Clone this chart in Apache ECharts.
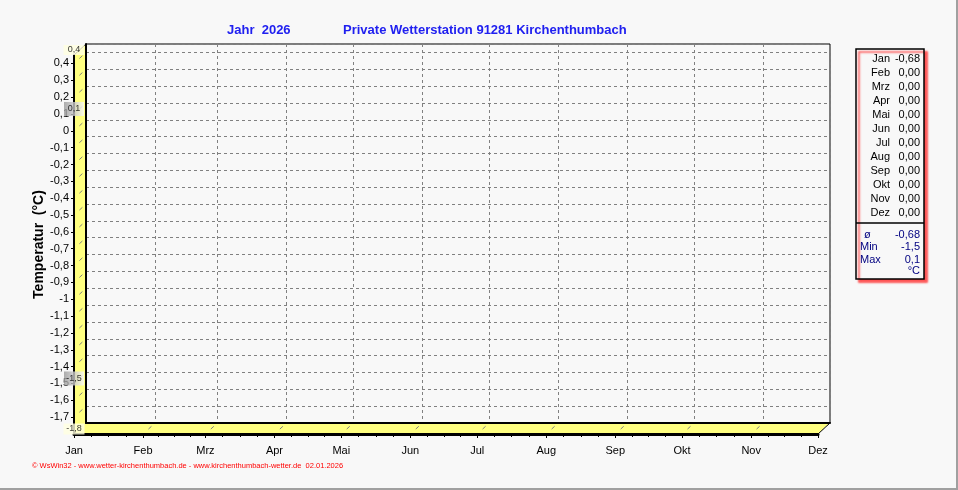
<!DOCTYPE html>
<html>
<head>
<meta charset="utf-8">
<title>Jahr 2026 - Temperatur</title>
<script src="https://cdn.jsdelivr.net/npm/echarts@6/dist/echarts.min.js"></script>
<style>
  html, body { margin: 0; padding: 0; background: #f8f8f8; }
  #chart { width: 958px; height: 490px; }
</style>
</head>
<body>
<div id="chart"></div>
<script>
// Monatsnamen und Tag des Jahres, an dem der Monat beginnt (x-Achse in Tagen)
const months = ['Jan', 'Feb', 'Mrz', 'Apr', 'Mai', 'Jun', 'Jul', 'Aug', 'Sep', 'Okt', 'Nov', 'Dez']
const monthStartDays = [0, 31, 59, 90, 120, 151, 181, 212, 243, 273, 304, 334]
// Monatsmittel (°C) aus der Tabelle rechts
const monthValues = [-0.68, 0, 0, 0, 0, 0, 0, 0, 0, 0, 0, 0]
const statLabels = ['ø', 'Min', 'Max']
const statValues = [-0.68, -1.5, 0.1]
const axisRange = [-1.8, 0.45]
const yStep = 0.1
const titles = ['Jahr  2026', 'Private Wetterstation 91281 Kirchenthumbach']
const footer = '© WsWin32 - www.wetter-kirchenthumbach.de - www.kirchenthumbach-wetter.de  02.01.2026'

const FONT = '"Liberation Sans", Arial, sans-serif'
const dayMax = monthStartDays[monthStartDays.length - 1]

// Zwischenstriche: Viertel jedes Monats
const quarterDays = []
for (let i = 0; i < monthStartDays.length - 1; i++) {
  const s = monthStartDays[i]
  const len = monthStartDays[i + 1] - s
  quarterDays.push(s + len / 4, s + len / 2, s + len * 3 / 4)
}

const fmtDec = (v, d) => v.toFixed(d).replace('.', ',')
const fmtTick = v => String(Math.round(v * 10) / 10 || 0).replace('.', ',')
const trunc1 = v => Math.trunc(v * 10 + (v < 0 ? -1e-9 : 1e-9)) / 10

const grayBox = new echarts.graphic.LinearGradient(0, 0, 1, 0, [
  { offset: 0, color: '#999999' },
  { offset: 1, color: '#fafafa' }
])

const chart = echarts.init(document.getElementById('chart'))

chart.setOption({
  backgroundColor: '#f8f8f8',
  animation: false,
  textStyle: { fontFamily: FONT },
  title: [
    { text: titles[0], left: 227, top: 24, padding: 0, textStyle: { color: '#2020f0', fontSize: 13, fontWeight: 'bold', fontFamily: FONT } },
    { text: titles[1], left: 343, top: 24, padding: 0, textStyle: { color: '#2020f0', fontSize: 13, fontWeight: 'bold', fontFamily: FONT } }
  ],
  grid: [
    // vordere Ebene (Achsen)
    { left: 74, top: 55, width: 744, height: 379 },
    // Rückwand (Gitter)
    { left: 86, top: 44, width: 744, height: 379, show: true, borderColor: '#000', borderWidth: 1, backgroundColor: 'transparent' }
  ],
  xAxis: [
    {
      gridIndex: 0, type: 'value', min: 0, max: dayMax, position: 'bottom',
      axisLine: { onZero: false, lineStyle: { color: '#000', width: 3 } },
      axisTick: { customValues: monthStartDays, length: 4, lineStyle: { color: '#000' } },
      axisLabel: {
        customValues: monthStartDays, margin: 11, fontSize: 11, color: '#000',
        formatter: v => months[monthStartDays.indexOf(v)]
      },
      splitLine: { show: false }
    },
    {
      gridIndex: 0, type: 'value', min: 0, max: dayMax, position: 'bottom',
      axisLine: { show: false, onZero: false },
      axisTick: { customValues: quarterDays, length: 3, lineStyle: { color: '#000' } },
      axisLabel: { show: false },
      splitLine: { show: false }
    },
    {
      gridIndex: 1, type: 'value', min: 0, max: dayMax, position: 'bottom',
      axisLine: { onZero: false, lineStyle: { color: '#000', width: 2 } },
      axisTick: { show: false, customValues: monthStartDays },
      axisLabel: { show: false },
      splitLine: { show: true, lineStyle: { color: '#808080', type: [3, 3], width: 1 } }
    }
  ],
  yAxis: [
    {
      gridIndex: 0, type: 'value', min: axisRange[0], max: axisRange[1], interval: yStep,
      name: 'Temperatur  (°C)', nameLocation: 'middle', nameGap: 28, nameRotate: 90, nameMoveOverlap: false,
      nameTextStyle: { fontSize: 14, fontWeight: 'bold', color: '#000', fontFamily: FONT },
      axisLine: { onZero: false, lineStyle: { color: '#000', width: 2 } },
      axisTick: { length: 3, lineStyle: { color: '#000' } },
      axisLabel: { fontSize: 11, color: '#000', margin: 5, showMinLabel: false, showMaxLabel: false, formatter: fmtTick },
      splitLine: { show: false }
    },
    {
      gridIndex: 1, type: 'value', min: axisRange[0], max: axisRange[1], interval: yStep,
      axisLine: { onZero: false, lineStyle: { color: '#000', width: 2 } },
      axisTick: { show: false },
      axisLabel: { show: false },
      splitLine: { show: true, lineStyle: { color: '#808080', type: [3, 3], width: 1 } }
    }
  ],
  series: [
    {
      // Markierungen an der Seitenwand: Achsenende und Min/Max
      type: 'scatter', xAxisIndex: 0, yAxisIndex: 0, z: 5, clip: false, silent: true,
      symbol: 'rect', symbolOffset: [0, -5],
      label: { show: true, position: 'inside', fontSize: 9, color: '#000', fontFamily: FONT },
      data: [
        { value: [0, axisRange[1]], symbolSize: [21, 10], itemStyle: { color: '#ffffe0' }, label: { formatter: fmtDec(trunc1(axisRange[1]), 1) } },
        { value: [0, axisRange[0]], symbolSize: [21, 11], itemStyle: { color: '#ffffe0' }, label: { formatter: fmtDec(trunc1(axisRange[0]), 1) } },
        { value: [0, statValues[2]], symbolSize: [20, 14], itemStyle: { color: grayBox }, label: { formatter: fmtDec(statValues[2], 1) } },
        { value: [0, statValues[1]], symbolSize: [20, 14], itemStyle: { color: grayBox }, label: { formatter: fmtDec(statValues[1], 1) } }
      ]
    }
  ]
})

// 3D-Wände und Tabelle aus den Achsen berechnen
const fx = d => chart.convertToPixel({ xAxisIndex: 0 }, d)
const fy = v => chart.convertToPixel({ yAxisIndex: 0 }, v)
const bx = d => chart.convertToPixel({ xAxisIndex: 2 }, d)
const by = v => chart.convertToPixel({ yAxisIndex: 1 }, v)
const lerp = (a, b, t) => a + (b - a) * t

const yellow = '#ffff80'
const deco = []
deco.push({
  type: 'polygon', z: -10, silent: true,
  shape: { points: [[fx(0), fy(axisRange[1])], [bx(0), by(axisRange[1])], [bx(0), by(axisRange[0])], [fx(0), fy(axisRange[0])]] },
  style: { fill: yellow }
})
deco.push({
  type: 'polygon', z: -10, silent: true,
  shape: { points: [[fx(0), fy(axisRange[0])], [bx(0), by(axisRange[0])], [bx(dayMax), by(axisRange[0])], [fx(dayMax), fy(axisRange[0])]] },
  style: { fill: yellow }
})
deco.push({
  type: 'line', z: -5, silent: true,
  shape: { x1: fx(dayMax), y1: fy(axisRange[0]), x2: bx(dayMax), y2: by(axisRange[0]) },
  style: { stroke: '#000', lineWidth: 1 }
})
deco.push({
  type: 'line', z: -5, silent: true,
  shape: { x1: fx(0), y1: fy(axisRange[1]), x2: bx(0), y2: by(axisRange[1]) },
  style: { stroke: '#000', lineWidth: 1 }
})
// kurze Gitterstücke auf Seitenwand und Boden
const nSteps = Math.round((axisRange[1] - axisRange[0]) / yStep)
for (let k = 1; k < nSteps; k++) {
  const v = axisRange[0] + k * yStep
  const x1 = fx(0), y1 = fy(v), x2 = bx(0), y2 = by(v)
  deco.push({
    type: 'line', z: -5, silent: true,
    shape: { x1: lerp(x1, x2, 0.45), y1: lerp(y1, y2, 0.45), x2: lerp(x1, x2, 0.7), y2: lerp(y1, y2, 0.7) },
    style: { stroke: '#808080', lineWidth: 1 }
  })
}
monthStartDays.forEach(d => {
  const x1 = fx(d), y1 = fy(axisRange[0]), x2 = bx(d), y2 = by(axisRange[0])
  deco.push({
    type: 'line', z: -5, silent: true,
    shape: { x1: lerp(x1, x2, 0.45), y1: lerp(y1, y2, 0.45), x2: lerp(x1, x2, 0.7), y2: lerp(y1, y2, 0.7) },
    style: { stroke: '#808080', lineWidth: 1 }
  })
})

// Tabelle rechts
const panelX = 856, panelY = 49, panelW = 68, panelH = 230
deco.push({
  type: 'rect', z: 10, silent: true,
  shape: { x: panelX, y: panelY, width: panelW, height: panelH },
  style: { fill: '#f8f8f8', stroke: '#000', lineWidth: 1.5, shadowColor: 'rgba(255,60,60,0.9)', shadowBlur: 2, shadowOffsetX: 3, shadowOffsetY: 3 }
})
deco.push({
  type: 'line', z: 11, silent: true,
  shape: { x1: panelX, y1: 223, x2: panelX + panelW, y2: 223 },
  style: { stroke: '#000', lineWidth: 1.5 }
})
months.forEach((m, i) => {
  const y = 58.5 + i * 14
  deco.push({ type: 'text', z: 11, silent: true, x: 890, y, style: { text: m, align: 'right', verticalAlign: 'middle', font: '11px ' + FONT, fill: '#000' } })
  deco.push({ type: 'text', z: 11, silent: true, x: 920, y, style: { text: fmtDec(monthValues[i], 2), align: 'right', verticalAlign: 'middle', font: '11px ' + FONT, fill: '#000' } })
})
const statText = [fmtDec(statValues[0], 2), fmtDec(statValues[1], 1), fmtDec(statValues[2], 1)]
statLabels.forEach((s, i) => {
  const y = 234.5 + i * 12.6
  deco.push({ type: 'text', z: 11, silent: true, x: i === 0 ? 864 : 860, y, style: { text: s, align: 'left', verticalAlign: 'middle', font: '11px ' + FONT, fill: '#000080' } })
  deco.push({ type: 'text', z: 11, silent: true, x: 920, y, style: { text: statText[i], align: 'right', verticalAlign: 'middle', font: '11px ' + FONT, fill: '#000080' } })
})
deco.push({ type: 'text', z: 11, silent: true, x: 920, y: 270.5, style: { text: '°C', align: 'right', verticalAlign: 'middle', font: '11px ' + FONT, fill: '#000080' } })

// Fußzeile und Rahmen
deco.push({ type: 'text', z: 11, silent: true, x: 32, y: 466, style: { text: footer, align: 'left', verticalAlign: 'middle', font: '7.5px ' + FONT, fill: '#ff0000' } })
deco.push({ type: 'line', z: 11, silent: true, shape: { x1: 957, y1: 0, x2: 957, y2: 490 }, style: { stroke: '#a0a0a0', lineWidth: 2 } })
deco.push({ type: 'line', z: 11, silent: true, shape: { x1: 0, y1: 489, x2: 958, y2: 489 }, style: { stroke: '#a0a0a0', lineWidth: 2 } })

chart.setOption({ graphic: deco })
</script>
</body>
</html>
